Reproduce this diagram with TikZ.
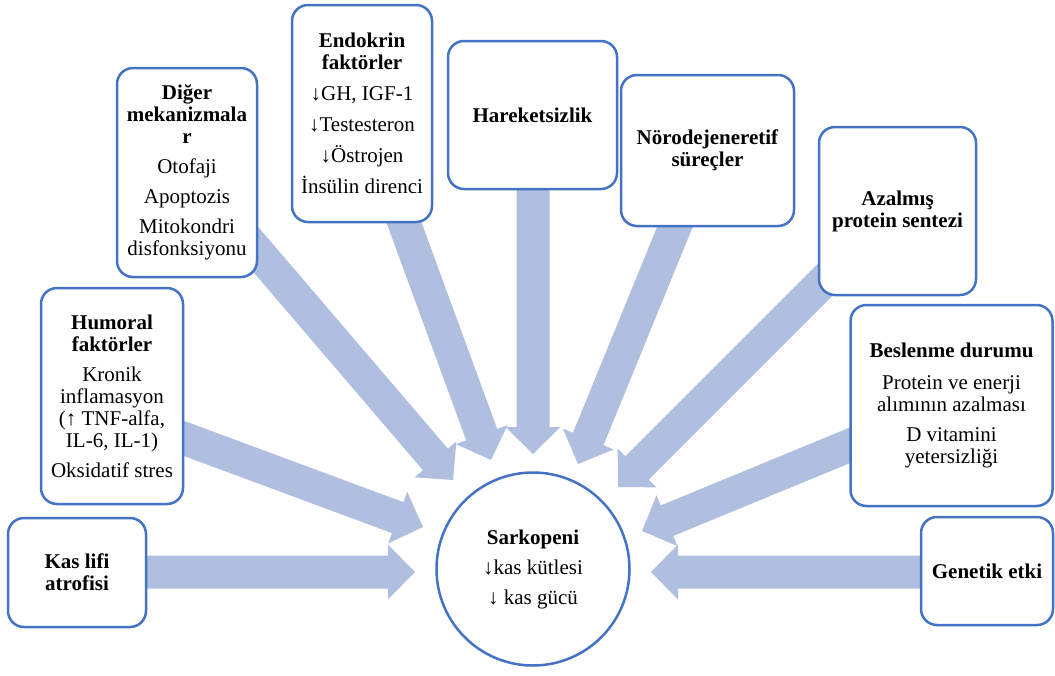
\documentclass[tikz,border=0pt]{standalone}
\usepackage{fontspec}
\setmainfont{Liberation Serif}
\usetikzlibrary{calc}
\definecolor{boxblue}{RGB}{68,114,196}
\definecolor{arrowfill}{RGB}{176,190,224}
\tikzset{
  box/.style={draw=boxblue, line width=2.5pt, rounded corners=16pt, fill=white, align=center, inner sep=2pt,
    font=\fontsize{21pt}{22pt}\selectfont},
  bigcirc/.style={draw=boxblue, line width=2.5pt, circle, fill=white, align=center, inner sep=0pt,
    font=\fontsize{21pt}{22pt}\selectfont},
  blk/.style={fill=arrowfill}
}
\newcommand{\blockarrow}[3]{%
  \coordinate (#1b) at ($(#3)!27pt!(#2)$);
  \fill[blk] ($(#2)!16.5pt!90:(#3)$) -- ($(#1b)!16.5pt!90:(#3)$) -- ($(#1b)!27.5pt!90:(#3)$) -- (#3)
    -- ($(#1b)!27.5pt!-90:(#3)$) -- ($(#1b)!16.5pt!-90:(#3)$) -- ($(#2)!16.5pt!-90:(#3)$) -- cycle;
}
\begin{document}
\begin{tikzpicture}[x=1pt,y=-1pt]
\useasboundingbox (0,0) rectangle (1055,675);
% arrow start/end coordinates
\coordinate (s1) at (120,572);  \coordinate (t1) at (415,572);
\coordinate (s2) at (160,429.5);\coordinate (t2) at (423,527);
\coordinate (s3) at (240,231);  \coordinate (t3) at (453,480);
\coordinate (s4) at (395,198);  \coordinate (t4) at (491,460);
\coordinate (s5) at (533,170);  \coordinate (t5) at (533,454);
\coordinate (s6) at (690,190);  \coordinate (t6) at (578,464);
\coordinate (s7) at (840,265);  \coordinate (t7) at (618,487);
\coordinate (s8) at (870,437);  \coordinate (t8) at (642,531);
\coordinate (s9) at (950,572);  \coordinate (t9) at (651,572);
\blockarrow{a1}{s1}{t1}
\blockarrow{a2}{s2}{t2}
\blockarrow{a3}{s3}{t3}
\blockarrow{a4}{s4}{t4}
\blockarrow{a5}{s5}{t5}
\blockarrow{a6}{s6}{t6}
\blockarrow{a7}{s7}{t7}
\blockarrow{a8}{s8}{t8}
\blockarrow{a9}{s9}{t9}
% boxes
\node[box, minimum width=138pt, minimum height=109pt] (kas) at (77,572.5)
  {\textbf{Kas lifi}\\\textbf{atrofisi}};
\node[box, minimum width=142pt, minimum height=216pt] (hum) at (112,396)
  {\textbf{Humoral}\\\textbf{faktörler}\\[8pt]Kronik\\inflamasyon\\(↑ TNF-alfa,\\IL-6, IL-1)\\[8pt]Oksidatif stres};
\node[box, minimum width=140pt, minimum height=209pt] (dig) at (187,172.5)
  {\textbf{Diğer}\\\textbf{mekanizmala}\\\textbf{r}\\[8pt]Otofaji\\[8pt]Apoptozis\\[8pt]Mitokondri\\disfonksiyonu};
\node[box, minimum width=140pt, minimum height=217pt] (end) at (362,113.5)
  {\textbf{Endokrin}\\\textbf{faktörler}\\[9pt]↓GH, IGF-1\\[9pt]↓Testesteron\\[9pt]↓Östrojen\\[9pt]İnsülin direnci};
\node[box, minimum width=169pt, minimum height=148pt] (har) at (532.5,115)
  {\textbf{Hareketsizlik}};
\node[box, minimum width=173pt, minimum height=151pt] (nor) at (707.5,150.5)
  {\textbf{Nörodejeneretif}\\\textbf{süreçler}};
\node[box, minimum width=157pt, minimum height=168pt] (aza) at (897.5,211)
  {\textbf{Azalmış}\\\textbf{protein sentezi}};
\node[box, minimum width=202pt, minimum height=201pt] (bes) at (951.5,405.5)
  {\textbf{Beslenme durumu}\\[10pt]Protein ve enerji\\alımının azalması\\[8pt]D vitamini\\yetersizliği};
\node[box, minimum width=132pt, minimum height=108pt] (gen) at (987,571)
  {\textbf{Genetik etki}};
\node[bigcirc, minimum size=193pt] (sar) at (533,569)
  {\textbf{Sarkopeni}\\[8pt]↓kas kütlesi\\[8pt]↓ kas gücü};
\end{tikzpicture}
\end{document}
